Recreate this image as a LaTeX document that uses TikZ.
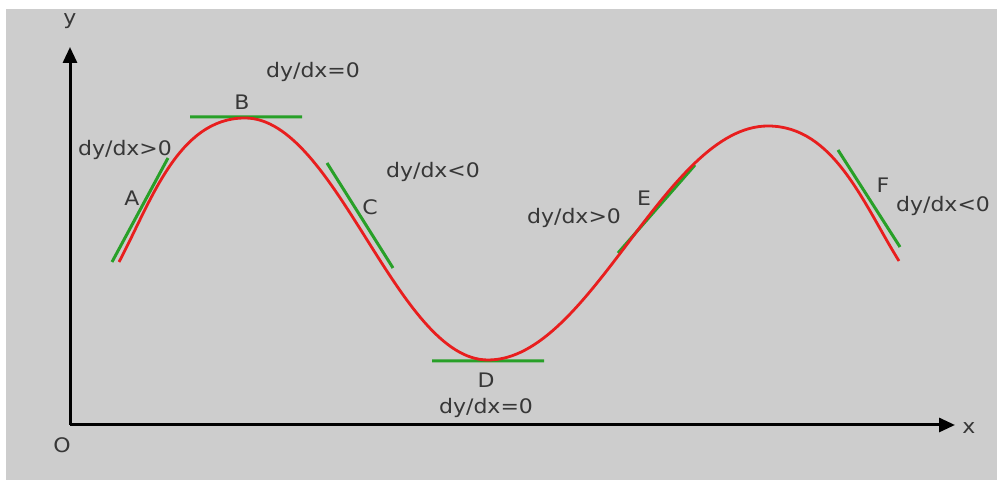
\documentclass[tikz,border=0pt]{standalone}
\usepackage{fontspec}
\newfontfamily\lblfont[FakeStretch=1.1]{DejaVu Sans}
\usepackage{tikz}
\usetikzlibrary{arrows.meta,calc,positioning,topaths}
\definecolor{bggray}{RGB}{205,205,205}
\definecolor{crvred}{RGB}{232,30,30}
\definecolor{tngreen}{RGB}{40,160,40}
\definecolor{txtgray}{RGB}{55,55,55}
\tikzset{
  ax/.style={draw=black,line width=1.5pt,-{Triangle[length=8pt,width=7pt]}},
  crv/.style={draw=crvred,line width=1.4pt},
  tng/.style={draw=tngreen,line width=1.5pt},
  lb/.style={font=\lblfont\fontsize{10}{12}\selectfont,text=txtgray,inner sep=1pt},
}

\begin{document}
\begin{tikzpicture}[x=0.5pt,y=0.5pt]
\useasboundingbox (0,0) rectangle (997,480);
\fill[white] (0,0) rectangle (997,480);
\fill[bggray] (6,0) rectangle (997,471);
% axes
\coordinate (O) at (70,55);
\coordinate (xend) at (955,55);
\coordinate (yend) at (70,433);
\draw[ax] (O) -- (xend);
\draw[ax] (O) -- (yend);
\node[lb] (xl) at (969,52) {x};
\node[lb] (yl) at (70,459) {y};
\node[lb] (ol) at (62,35) {O};
% tangents
\coordinate (ta1) at (112,218); \coordinate (ta2) at (168,322);
\coordinate (tb1) at (190,363); \coordinate (tb2) at (302,363);
\coordinate (tc1) at (327,317); \coordinate (tc2) at (393,212);
\coordinate (td1) at (432,119); \coordinate (td2) at (544,119);
\coordinate (te1) at (618,227); \coordinate (te2) at (695,315);
\coordinate (tf1) at (838,330); \coordinate (tf2) at (900,233);
\draw[tng] (ta1)--(ta2) (tb1)--(tb2) (tc1)--(tc2)
  (td1)--(td2) (te1)--(te2) (tf1)--(tf2);
% the curve
\coordinate (s) at (119,218); \coordinate (pB) at (245,362);
\coordinate (pD) at (488,120); \coordinate (pP) at (768,354);
\coordinate (e) at (899,219);
\draw[crv] (s) to[out=62,in=180,looseness=.9] (pB)
  to[out=0,in=180,looseness=.68] (pD)
  to[out=0,in=180,looseness=.72] (pP) to[out=0,in=122,looseness=.9] (e);
% labels
\node[lb] (A) at (132,282) {A};
\node[lb] (B) at (242,378) {B};
\node[lb] (C) at (370,273) {C};
\node[lb] (D) at (486,100) {D};
\node[lb] (E) at (644,282) {E};
\node[lb] (F) at (883,295) {F};
\node[lb] (dA) at (125,330) {dy/dx>0};
\node[lb] (dB) at (313,408) {dy/dx=0};
\node[lb] (dC) at (433,308) {dy/dx<0};
\node[lb] (dD) at (486,72) {dy/dx=0};
\node[lb] (dE) at (574,262) {dy/dx>0};
\node[lb] (dF) at (943,274) {dy/dx<0};
\end{tikzpicture}
\end{document}
